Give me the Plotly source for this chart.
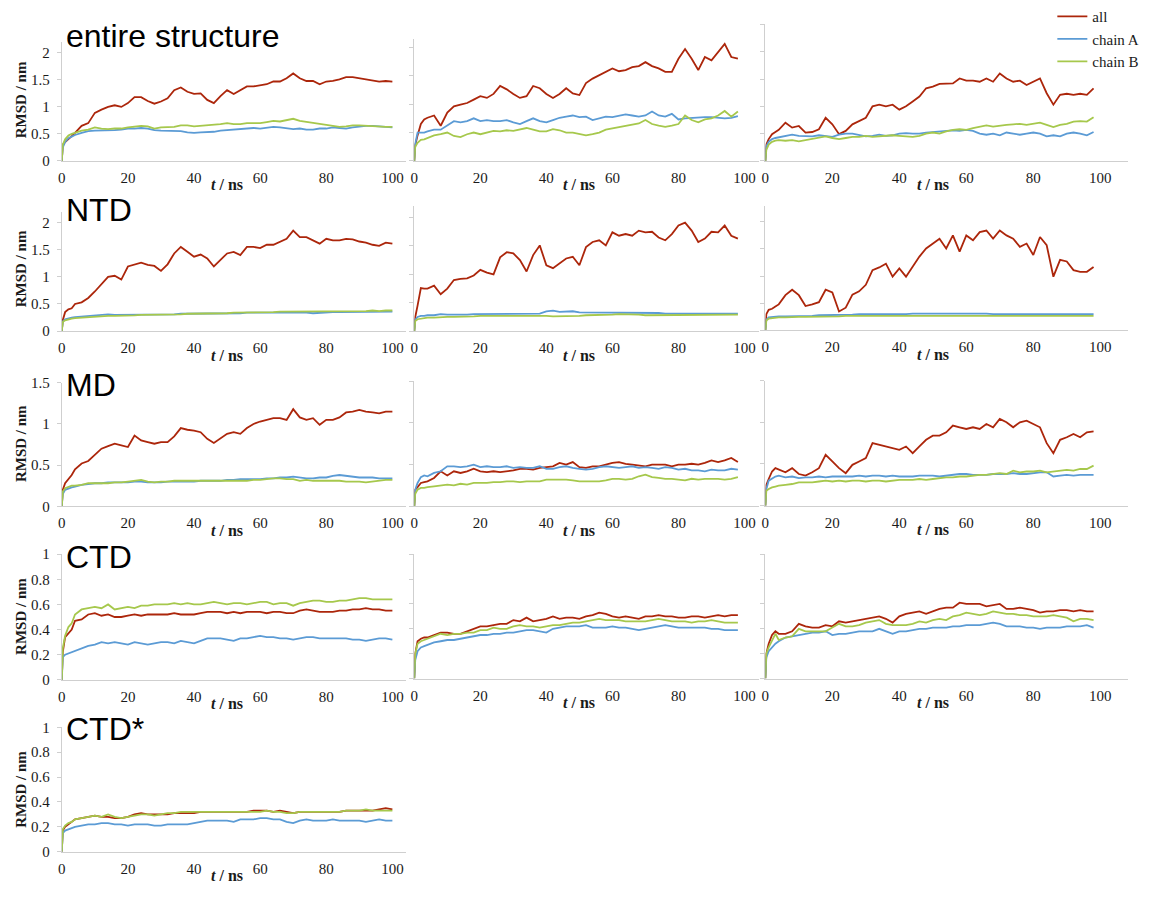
import plotly.graph_objects as go

# ---------------------------------------------------------------------------
# Time axis (ns): dense start, then every 2 ns
# ---------------------------------------------------------------------------
T = [0, 0.3, 1, 2, 3, 4] + list(range(6, 101, 2))

SERIES_NAMES = ["all", "chain A", "chain B"]
ROW_TITLES = ["entire structure", "NTD", "MD", "CTD", "CTD*"]
X_TICKS = [0, 20, 40, 60, 80, 100]

# ---------------------------------------------------------------------------
# RMSD values (nm)
# ---------------------------------------------------------------------------
# entire structure, run 1
ES1_ALL = [0, 0.3, 0.35, 0.4, 0.46, 0.52, 0.65, 0.7,
           0.89, 0.95, 1.0, 1.03, 1.0, 1.07, 1.18, 1.18, 1.11, 1.06,
           1.1, 1.16, 1.31, 1.36, 1.28, 1.24, 1.25, 1.13, 1.07, 1.2,
           1.31, 1.24, 1.31, 1.38, 1.38, 1.4, 1.42, 1.47, 1.47, 1.53,
           1.62, 1.53, 1.48, 1.48, 1.42, 1.47, 1.48, 1.51, 1.55, 1.55,
           1.53, 1.51, 1.48, 1.47, 1.48, 1.47]
ES1_A = [0, 0.25, 0.35, 0.42, 0.45, 0.48, 0.52, 0.55,
         0.56, 0.56, 0.57, 0.57, 0.58, 0.6, 0.6, 0.61, 0.6, 0.57,
         0.56, 0.56, 0.55, 0.55, 0.53, 0.52, 0.53, 0.53, 0.54, 0.56,
         0.57, 0.57, 0.58, 0.6, 0.61, 0.6, 0.62, 0.63, 0.62, 0.6,
         0.59, 0.6, 0.58, 0.58, 0.6, 0.6, 0.62, 0.61, 0.6, 0.62,
         0.64, 0.65, 0.65, 0.64, 0.63, 0.62]
ES1_B = [0, 0.3, 0.4, 0.47, 0.5, 0.52, 0.56, 0.58,
         0.62, 0.6, 0.59, 0.6, 0.6, 0.62, 0.63, 0.65, 0.64, 0.6,
         0.62, 0.63, 0.63, 0.66, 0.66, 0.64, 0.65, 0.66, 0.66, 0.68,
         0.7, 0.68, 0.68, 0.7, 0.7, 0.7, 0.72, 0.74, 0.73, 0.75,
         0.78, 0.74, 0.72, 0.7, 0.68, 0.66, 0.65, 0.63, 0.64, 0.66,
         0.66, 0.65, 0.64, 0.64, 0.63, 0.63]

# entire structure, run 2
ES2_ALL = [0, 0.28, 0.45, 0.65, 0.73, 0.76, 0.8, 0.62,
           0.85, 0.96, 0.99, 1.02, 1.08, 1.14, 1.11, 1.18, 1.32, 1.26,
           1.18, 1.11, 1.14, 1.32, 1.28, 1.18, 1.11, 1.18, 1.28, 1.19,
           1.16, 1.37, 1.45, 1.51, 1.57, 1.63, 1.58, 1.6, 1.65, 1.67,
           1.74, 1.67, 1.63, 1.57, 1.57, 1.8, 1.97, 1.8, 1.6, 1.83,
           1.77, 1.91, 2.06, 1.83, 1.8]
ES2_A = [0, 0.3, 0.5, 0.5, 0.5, 0.52, 0.55, 0.55,
         0.63, 0.7, 0.68, 0.7, 0.75, 0.7, 0.72, 0.7, 0.7, 0.72,
         0.68, 0.65, 0.7, 0.75, 0.7, 0.68, 0.72, 0.76, 0.78, 0.8,
         0.77, 0.78, 0.72, 0.75, 0.78, 0.77, 0.8, 0.82, 0.8, 0.78,
         0.8, 0.87, 0.8, 0.78, 0.83, 0.73, 0.75, 0.76, 0.77, 0.77,
         0.77, 0.76, 0.75, 0.76, 0.79]
ES2_B = [0, 0.25, 0.32, 0.37, 0.38, 0.4, 0.45, 0.47,
         0.5, 0.44, 0.42, 0.47, 0.5, 0.47, 0.5, 0.53, 0.52, 0.54,
         0.53, 0.55, 0.58, 0.55, 0.52, 0.52, 0.56, 0.54, 0.5, 0.5,
         0.48, 0.45, 0.47, 0.5, 0.55, 0.57, 0.6, 0.61, 0.63, 0.66,
         0.72, 0.65, 0.62, 0.6, 0.62, 0.65, 0.8, 0.72, 0.68, 0.73,
         0.75, 0.8, 0.88, 0.78, 0.87]

# entire structure, run 3
ES3_ALL = [0, 0.3, 0.4, 0.49, 0.53, 0.57, 0.7, 0.61,
           0.64, 0.52, 0.53, 0.58, 0.79, 0.67, 0.49, 0.55, 0.67, 0.73,
           0.79, 1.0, 1.03, 1.0, 1.03, 0.94, 1.0, 1.09, 1.18, 1.33,
           1.36, 1.41, 1.41, 1.42, 1.51, 1.47, 1.47, 1.45, 1.51, 1.45,
           1.6, 1.51, 1.45, 1.47, 1.39, 1.45, 1.51, 1.24, 1.03, 1.21,
           1.23, 1.21, 1.23, 1.21, 1.33]
ES3_A = [0, 0.27, 0.35, 0.4, 0.42, 0.43, 0.45, 0.48,
         0.46, 0.45, 0.45, 0.47, 0.45, 0.44, 0.48, 0.5, 0.5, 0.47,
         0.45, 0.46, 0.48, 0.46, 0.47, 0.5, 0.51, 0.5, 0.5, 0.52,
         0.53, 0.55, 0.56, 0.56, 0.55, 0.57, 0.55, 0.5, 0.48, 0.5,
         0.47, 0.52, 0.5, 0.48, 0.5, 0.52, 0.5, 0.45, 0.47, 0.45,
         0.5, 0.52, 0.5, 0.47, 0.53]
ES3_B = [0, 0.2, 0.3, 0.35, 0.37, 0.38, 0.37, 0.38,
         0.36, 0.38, 0.4, 0.42, 0.45, 0.42, 0.4, 0.42, 0.44, 0.44,
         0.46, 0.44, 0.45, 0.45, 0.47, 0.46, 0.45, 0.44, 0.46, 0.5,
         0.52, 0.5, 0.54, 0.57, 0.58, 0.57, 0.6, 0.62, 0.65, 0.63,
         0.65, 0.66, 0.67, 0.68, 0.66, 0.68, 0.7, 0.66, 0.62, 0.66,
         0.68, 0.72, 0.73, 0.72, 0.8]

# NTD
NTD1_ALL = [0, 0.2, 0.35, 0.4, 0.42, 0.5, 0.53, 0.61,
            0.73, 0.86, 1.0, 1.02, 0.95, 1.19, 1.23, 1.26, 1.22, 1.2,
            1.11, 1.23, 1.43, 1.55, 1.46, 1.37, 1.41, 1.34, 1.19, 1.31,
            1.43, 1.46, 1.4, 1.55, 1.55, 1.53, 1.59, 1.59, 1.64, 1.7,
            1.85, 1.73, 1.73, 1.67, 1.61, 1.7, 1.67, 1.67, 1.7, 1.69,
            1.65, 1.63, 1.59, 1.57, 1.63, 1.61]
NTD1_A = [0, 0.18, 0.22, 0.24, 0.25, 0.26, 0.27, 0.28,
          0.3, 0.3, 0.31, 0.3, 0.3, 0.3, 0.31, 0.3, 0.3, 0.31,
          0.31, 0.31, 0.31, 0.32, 0.32, 0.32, 0.32, 0.33, 0.32, 0.33,
          0.33, 0.33, 0.33, 0.34, 0.34, 0.34, 0.35, 0.35, 0.35, 0.35,
          0.35, 0.34, 0.34, 0.33, 0.34, 0.34, 0.35, 0.35, 0.35, 0.35,
          0.35, 0.35, 0.36, 0.36, 0.36, 0.36]
NTD1_B = [0, 0.17, 0.2, 0.22, 0.23, 0.24, 0.25, 0.26,
          0.27, 0.27, 0.28, 0.28, 0.28, 0.29, 0.29, 0.3, 0.3, 0.3,
          0.31, 0.31, 0.31, 0.31, 0.32, 0.32, 0.32, 0.32, 0.33, 0.33,
          0.33, 0.34, 0.34, 0.34, 0.35, 0.35, 0.35, 0.35, 0.36, 0.36,
          0.36, 0.36, 0.36, 0.37, 0.37, 0.37, 0.37, 0.36, 0.37, 0.37,
          0.37, 0.37, 0.38, 0.37, 0.38, 0.38]

NTD2_ALL = [0, 0.25, 0.45, 0.76, 0.75, 0.75, 0.8, 0.65,
            0.75, 0.9, 0.92, 0.93, 0.98, 1.08, 1.03, 1.0, 1.3, 1.39,
            1.37, 1.25, 1.05, 1.34, 1.51, 1.16, 1.11, 1.19, 1.28, 1.31,
            1.16, 1.48, 1.57, 1.6, 1.51, 1.74, 1.68, 1.71, 1.68, 1.77,
            1.74, 1.75, 1.65, 1.6, 1.71, 1.86, 1.91, 1.77, 1.57, 1.63,
            1.75, 1.74, 1.86, 1.68, 1.63]
NTD2_A = [0, 0.2, 0.25, 0.27, 0.27, 0.28, 0.28, 0.3,
          0.29, 0.29, 0.28, 0.29, 0.3, 0.3, 0.3, 0.31, 0.31, 0.3,
          0.3, 0.3, 0.3, 0.3, 0.31, 0.35, 0.36, 0.34, 0.34, 0.35,
          0.33, 0.33, 0.33, 0.33, 0.33, 0.32, 0.32, 0.33, 0.33, 0.33,
          0.33, 0.32, 0.32, 0.31, 0.31, 0.31, 0.31, 0.3, 0.3, 0.3,
          0.3, 0.3, 0.3, 0.31, 0.31]
NTD2_B = [0, 0.18, 0.21, 0.22, 0.23, 0.24, 0.24, 0.25,
          0.25, 0.25, 0.25, 0.26, 0.26, 0.27, 0.27, 0.28, 0.28, 0.28,
          0.28, 0.28, 0.28, 0.27, 0.27, 0.27, 0.26, 0.26, 0.27, 0.27,
          0.27, 0.28, 0.28, 0.29, 0.29, 0.29, 0.3, 0.3, 0.29, 0.29,
          0.28, 0.28, 0.28, 0.28, 0.28, 0.28, 0.28, 0.28, 0.28, 0.28,
          0.28, 0.28, 0.29, 0.29, 0.29]

NTD3_ALL = [0, 0.3, 0.38, 0.4, 0.44, 0.48, 0.65, 0.75,
            0.65, 0.45, 0.48, 0.52, 0.75, 0.7, 0.35, 0.42, 0.66, 0.72,
            0.84, 1.11, 1.16, 1.23, 0.99, 1.14, 0.99, 1.17, 1.36, 1.51,
            1.6, 1.69, 1.51, 1.75, 1.45, 1.75, 1.66, 1.81, 1.84, 1.69,
            1.84, 1.75, 1.69, 1.54, 1.6, 1.39, 1.72, 1.57, 0.99, 1.3,
            1.27, 1.11, 1.08, 1.08, 1.17]
NTD3_A = [0, 0.2, 0.24, 0.25, 0.25, 0.26, 0.26, 0.26,
          0.26, 0.27, 0.27, 0.28, 0.28, 0.29, 0.29, 0.29, 0.29, 0.3,
          0.3, 0.29, 0.3, 0.3, 0.3, 0.3, 0.3, 0.31, 0.31, 0.31,
          0.31, 0.31, 0.31, 0.31, 0.31, 0.31, 0.32, 0.31, 0.31, 0.3,
          0.3, 0.3, 0.3, 0.31, 0.31, 0.31, 0.31, 0.3, 0.3, 0.3,
          0.3, 0.3, 0.3, 0.3, 0.3]
NTD3_B = [0, 0.18, 0.22, 0.23, 0.23, 0.24, 0.24, 0.25,
          0.25, 0.25, 0.25, 0.26, 0.26, 0.26, 0.26, 0.27, 0.27, 0.28,
          0.27, 0.27, 0.27, 0.27, 0.28, 0.28, 0.28, 0.28, 0.28, 0.28,
          0.28, 0.28, 0.28, 0.28, 0.28, 0.28, 0.28, 0.28, 0.27, 0.27,
          0.28, 0.28, 0.27, 0.27, 0.27, 0.27, 0.27, 0.27, 0.27, 0.27,
          0.27, 0.27, 0.27, 0.27, 0.27]

# MD
MD1_ALL = [0, 0.2, 0.28, 0.33, 0.38, 0.45, 0.52, 0.55,
           0.62, 0.7, 0.73, 0.76, 0.74, 0.72, 0.86, 0.8, 0.78, 0.76,
           0.78, 0.78, 0.85, 0.95, 0.93, 0.92, 0.9, 0.82, 0.77, 0.83,
           0.88, 0.9, 0.88, 0.95, 1.0, 1.03, 1.05, 1.07, 1.07, 1.05,
           1.18, 1.08, 1.05, 1.07, 0.99, 1.05, 1.05, 1.08, 1.14, 1.15,
           1.17, 1.15, 1.14, 1.13, 1.15, 1.15]
MD1_A = [0, 0.15, 0.2, 0.22, 0.23, 0.24, 0.26, 0.27,
         0.28, 0.28, 0.29, 0.29, 0.29, 0.29, 0.3, 0.3, 0.29, 0.29,
         0.29, 0.3, 0.3, 0.3, 0.3, 0.3, 0.31, 0.31, 0.31, 0.31,
         0.32, 0.32, 0.33, 0.33, 0.33, 0.33, 0.34, 0.34, 0.35, 0.35,
         0.36, 0.35, 0.34, 0.34, 0.35, 0.35, 0.37, 0.38, 0.37, 0.36,
         0.35, 0.35, 0.35, 0.34, 0.34, 0.34]
MD1_B = [0, 0.18, 0.22, 0.24, 0.25, 0.25, 0.26, 0.28,
         0.28, 0.28, 0.28, 0.29, 0.29, 0.3, 0.31, 0.32, 0.3, 0.29,
         0.3, 0.3, 0.31, 0.31, 0.31, 0.31, 0.31, 0.31, 0.31, 0.31,
         0.31, 0.31, 0.31, 0.31, 0.32, 0.32, 0.33, 0.34, 0.34, 0.33,
         0.33, 0.31, 0.32, 0.31, 0.31, 0.31, 0.31, 0.31, 0.3, 0.3,
         0.3, 0.29, 0.3, 0.31, 0.32, 0.32]

MD2_ALL = [0, 0.2, 0.23, 0.28, 0.29, 0.3, 0.34, 0.42,
           0.37, 0.42, 0.4, 0.42, 0.45, 0.42, 0.41, 0.42, 0.41, 0.42,
           0.43, 0.45, 0.45, 0.44, 0.46, 0.47, 0.48, 0.52, 0.5, 0.53,
           0.47, 0.46, 0.48, 0.48, 0.5, 0.52, 0.53, 0.51, 0.5, 0.49,
           0.48, 0.5, 0.5, 0.5, 0.48, 0.5, 0.5, 0.51, 0.5, 0.52,
           0.55, 0.53, 0.55, 0.58, 0.53]
MD2_A = [0, 0.2, 0.28, 0.35, 0.37, 0.36, 0.4, 0.42,
         0.48, 0.48, 0.47, 0.48, 0.5, 0.47, 0.48, 0.47, 0.47, 0.48,
         0.46, 0.47, 0.46, 0.46, 0.48, 0.45, 0.45, 0.47, 0.48, 0.46,
         0.45, 0.44, 0.45, 0.47, 0.48, 0.47, 0.46, 0.47, 0.48, 0.46,
         0.47, 0.46, 0.45, 0.47, 0.46, 0.44, 0.45, 0.43, 0.43, 0.42,
         0.44, 0.43, 0.43, 0.45, 0.44]
MD2_B = [0, 0.15, 0.2, 0.22, 0.22, 0.23, 0.24, 0.25,
         0.26, 0.25, 0.27, 0.26, 0.28, 0.28, 0.28, 0.29, 0.29, 0.3,
         0.3, 0.29, 0.3, 0.3, 0.3, 0.32, 0.32, 0.32, 0.32, 0.31,
         0.3, 0.3, 0.3, 0.3, 0.31, 0.33, 0.33, 0.32, 0.33, 0.36,
         0.38, 0.35, 0.34, 0.33, 0.33, 0.32, 0.31, 0.33, 0.32, 0.33,
         0.33, 0.33, 0.32, 0.33, 0.35]

MD3_ALL = [0, 0.25, 0.32, 0.41, 0.45, 0.43, 0.4, 0.45,
           0.38, 0.36, 0.4, 0.45, 0.61, 0.53, 0.45, 0.39, 0.49, 0.53,
           0.57, 0.75, 0.73, 0.71, 0.69, 0.67, 0.71, 0.63, 0.71, 0.79,
           0.84, 0.84, 0.88, 0.96, 0.94, 0.92, 0.94, 0.92, 0.98, 0.94,
           1.04, 1.0, 0.94, 1.0, 1.02, 0.98, 0.94, 0.75, 0.63, 0.79,
           0.82, 0.86, 0.82, 0.88, 0.89]
MD3_A = [0, 0.2, 0.3, 0.33, 0.35, 0.36, 0.34, 0.35,
         0.33, 0.34, 0.34, 0.35, 0.34, 0.35, 0.35, 0.35, 0.35, 0.36,
         0.35, 0.36, 0.36, 0.35, 0.36, 0.35, 0.35, 0.35, 0.36, 0.36,
         0.36, 0.35, 0.36, 0.37, 0.38, 0.38, 0.37, 0.37, 0.37, 0.38,
         0.38, 0.38, 0.39, 0.38, 0.38, 0.39, 0.4, 0.4, 0.35, 0.36,
         0.37, 0.36, 0.37, 0.37, 0.37]
MD3_B = [0, 0.18, 0.2, 0.22, 0.23, 0.24, 0.25, 0.26,
         0.28, 0.28, 0.28, 0.29, 0.3, 0.29, 0.3, 0.29, 0.3, 0.3,
         0.29, 0.3, 0.3, 0.29, 0.3, 0.31, 0.31, 0.31, 0.32, 0.31,
         0.32, 0.33, 0.34, 0.34, 0.35, 0.35, 0.36, 0.37, 0.37, 0.38,
         0.39, 0.38, 0.42, 0.4, 0.41, 0.41, 0.42, 0.4, 0.41, 0.42,
         0.43, 0.42, 0.44, 0.44, 0.48]

# CTD
CTD1_ALL = [0, 0.22, 0.34, 0.37, 0.4, 0.47, 0.48, 0.52,
            0.53, 0.51, 0.52, 0.5, 0.5, 0.51, 0.52, 0.51, 0.52, 0.52,
            0.52, 0.52, 0.53, 0.52, 0.52, 0.52, 0.53, 0.54, 0.54, 0.54,
            0.53, 0.54, 0.53, 0.54, 0.54, 0.54, 0.53, 0.54, 0.54, 0.53,
            0.53, 0.55, 0.56, 0.55, 0.54, 0.54, 0.54, 0.55, 0.55, 0.56,
            0.56, 0.57, 0.56, 0.56, 0.55, 0.55]
CTD1_A = [0, 0.18, 0.2, 0.21, 0.22, 0.23, 0.25, 0.27,
          0.28, 0.3, 0.29, 0.3, 0.29, 0.28, 0.3, 0.29, 0.28, 0.29,
          0.3, 0.3, 0.29, 0.31, 0.3, 0.29, 0.31, 0.33, 0.33, 0.33,
          0.32, 0.31, 0.33, 0.33, 0.34, 0.35, 0.34, 0.34, 0.33, 0.33,
          0.32, 0.33, 0.34, 0.34, 0.33, 0.33, 0.33, 0.33, 0.33, 0.32,
          0.32, 0.31, 0.32, 0.33, 0.33, 0.32]
CTD1_B = [0, 0.25, 0.35, 0.42, 0.45, 0.52, 0.56, 0.57,
          0.58, 0.57, 0.6, 0.56, 0.57, 0.58, 0.57, 0.59, 0.59, 0.6,
          0.6, 0.6, 0.61, 0.6, 0.61, 0.6, 0.6, 0.61, 0.62, 0.61,
          0.6, 0.61, 0.61, 0.6, 0.61, 0.62, 0.62, 0.6, 0.61, 0.61,
          0.59, 0.61, 0.62, 0.63, 0.63, 0.62, 0.62, 0.63, 0.63, 0.64,
          0.65, 0.65, 0.64, 0.64, 0.64, 0.64]

CTD2_ALL = [0, 0.2, 0.3, 0.32, 0.33, 0.33, 0.35, 0.37,
            0.37, 0.36, 0.36, 0.38, 0.4, 0.42, 0.42, 0.43, 0.44, 0.44,
            0.47, 0.46, 0.49, 0.46, 0.47, 0.48, 0.5, 0.48, 0.49, 0.49,
            0.48, 0.5, 0.51, 0.53, 0.52, 0.5, 0.49, 0.5, 0.49, 0.48,
            0.5, 0.5, 0.51, 0.5, 0.5, 0.49, 0.49, 0.5, 0.5, 0.49,
            0.5, 0.51, 0.5, 0.51, 0.51]
CTD2_A = [0, 0.15, 0.22, 0.25, 0.26, 0.27, 0.29, 0.3,
          0.31, 0.31, 0.32, 0.33, 0.34, 0.35, 0.35, 0.36, 0.36, 0.37,
          0.37, 0.38, 0.39, 0.39, 0.38, 0.37, 0.4, 0.41, 0.42, 0.42,
          0.42, 0.43, 0.41, 0.41, 0.41, 0.42, 0.41, 0.41, 0.4, 0.39,
          0.4, 0.41, 0.42, 0.43, 0.42, 0.41, 0.41, 0.41, 0.41, 0.41,
          0.4, 0.4, 0.39, 0.39, 0.39]
CTD2_B = [0, 0.2, 0.28, 0.3, 0.31, 0.32, 0.34, 0.36,
          0.35, 0.36, 0.36, 0.37, 0.37, 0.39, 0.39, 0.41, 0.4, 0.4,
          0.42, 0.43, 0.42, 0.42, 0.41, 0.42, 0.43, 0.43, 0.44, 0.45,
          0.45, 0.46, 0.47, 0.48, 0.47, 0.47, 0.47, 0.46, 0.46, 0.46,
          0.46, 0.47, 0.48, 0.47, 0.46, 0.46, 0.46, 0.45, 0.46, 0.46,
          0.47, 0.46, 0.45, 0.45, 0.45]

CTD3_ALL = [0, 0.2, 0.28, 0.35, 0.38, 0.36, 0.36, 0.38,
            0.44, 0.42, 0.41, 0.41, 0.43, 0.42, 0.46, 0.45, 0.46, 0.47,
            0.48, 0.49, 0.5, 0.48, 0.45, 0.5, 0.52, 0.53, 0.54, 0.52,
            0.54, 0.56, 0.57, 0.57, 0.61, 0.6, 0.6, 0.6, 0.58, 0.59,
            0.6, 0.56, 0.56, 0.57, 0.56, 0.55, 0.53, 0.54, 0.54, 0.55,
            0.55, 0.54, 0.55, 0.54, 0.54]
CTD3_A = [0, 0.17, 0.22, 0.25, 0.28, 0.3, 0.33, 0.34,
          0.35, 0.36, 0.37, 0.37, 0.38, 0.35, 0.36, 0.36, 0.37, 0.38,
          0.38, 0.38, 0.4, 0.38, 0.36, 0.38, 0.38, 0.39, 0.4, 0.4,
          0.41, 0.41, 0.41, 0.42, 0.42, 0.43, 0.43, 0.43, 0.44, 0.45,
          0.44, 0.42, 0.42, 0.42, 0.41, 0.41, 0.4, 0.41, 0.41, 0.41,
          0.42, 0.42, 0.42, 0.43, 0.41]
CTD3_B = [0, 0.2, 0.25, 0.3, 0.36, 0.31, 0.33, 0.34,
          0.4, 0.38, 0.38, 0.38, 0.38, 0.41, 0.44, 0.42, 0.42, 0.43,
          0.45, 0.46, 0.47, 0.44, 0.43, 0.43, 0.43, 0.44, 0.46, 0.45,
          0.47, 0.48, 0.47, 0.5, 0.51, 0.53, 0.52, 0.51, 0.52, 0.54,
          0.53, 0.52, 0.52, 0.51, 0.51, 0.5, 0.5, 0.5, 0.51, 0.5,
          0.49, 0.46, 0.48, 0.48, 0.47]

# CTD*
CTDS_ALL = [0, 0.17, 0.2, 0.22, 0.24, 0.26, 0.27, 0.28,
            0.29, 0.28, 0.28, 0.27, 0.27, 0.28, 0.3, 0.31, 0.3, 0.3,
            0.3, 0.3, 0.31, 0.31, 0.31, 0.31, 0.32, 0.32, 0.32, 0.32,
            0.32, 0.32, 0.32, 0.32, 0.33, 0.33, 0.33, 0.32, 0.33, 0.32,
            0.31, 0.32, 0.32, 0.32, 0.32, 0.32, 0.32, 0.32, 0.33, 0.33,
            0.33, 0.33, 0.33, 0.34, 0.35, 0.34]
CTDS_A = [0, 0.15, 0.17, 0.18, 0.19, 0.2, 0.21, 0.22,
          0.22, 0.23, 0.23, 0.22, 0.22, 0.21, 0.22, 0.22, 0.22, 0.21,
          0.21, 0.22, 0.22, 0.22, 0.22, 0.23, 0.24, 0.25, 0.25, 0.25,
          0.25, 0.24, 0.26, 0.26, 0.26, 0.27, 0.27, 0.26, 0.26, 0.24,
          0.23, 0.25, 0.26, 0.25, 0.25, 0.25, 0.26, 0.25, 0.25, 0.25,
          0.25, 0.24, 0.25, 0.26, 0.25, 0.25]
CTDS_B = [0, 0.18, 0.21, 0.23, 0.24, 0.26, 0.27, 0.28,
          0.29, 0.28, 0.3, 0.28, 0.27, 0.28, 0.29, 0.3, 0.3, 0.29,
          0.3, 0.31, 0.31, 0.32, 0.32, 0.32, 0.32, 0.32, 0.32, 0.32,
          0.32, 0.32, 0.32, 0.32, 0.32, 0.32, 0.33, 0.32, 0.32, 0.31,
          0.31, 0.32, 0.32, 0.32, 0.32, 0.32, 0.32, 0.32, 0.33, 0.33,
          0.33, 0.34, 0.33, 0.33, 0.33, 0.33]

# ---------------------------------------------------------------------------
# Page geometry (pixels) and styling
# ---------------------------------------------------------------------------
W, H = 1149, 901
COLORS = ["#ac260b", "#5b9bd5", "#a6c84c"]
AXIS_GRAY = "#cfcfcf"
TEXT = "#1a1a1a"
SERIF = "Liberation Serif"
SANS = "Liberation Sans"

# column: (left px, right px, x max)
COLS = [(58, 403, 104.0), (411.7, 758, 104.5), (764, 1128, 108.3)]

# each panel: (row, col, series, bottom px, top px, y max, y dtick)
PANELS = [
    (0, 0, (ES1_ALL, ES1_A, ES1_B), 155.7, 34.7, 2.2, 0.5),
    (0, 1, (ES2_ALL, ES2_A, ES2_B), 155.7, 31.4, 2.15, 0.5),
    (0, 2, (ES3_ALL, ES3_A, ES3_B), 155.7, 16.7, 2.5, 0.5),
    (1, 0, (NTD1_ALL, NTD1_A, NTD1_B), 329.0, 207.3, 2.2, 0.5),
    (1, 1, (NTD2_ALL, NTD2_A, NTD2_B), 329.0, 201.8, 2.2, 0.5),
    (1, 2, (NTD3_ALL, NTD3_A, NTD3_B), 328.3, 201.1, 2.3, 0.5),
    (2, 0, (MD1_ALL, MD1_A, MD1_B), 507.3, 381.6, 1.5, 0.5),
    (2, 1, (MD2_ALL, MD2_A, MD2_B), 507.3, 380.0, 1.5, 0.5),
    (2, 2, (MD3_ALL, MD3_A, MD3_B), 506.7, 379.3, 1.5, 0.5),
    (3, 0, (CTD1_ALL, CTD1_A, CTD1_B), 684.0, 556.0, 1.0, 0.2),
    (3, 1, (CTD2_ALL, CTD2_A, CTD2_B), 682.7, 556.0, 1.0, 0.2),
    (3, 2, (CTD3_ALL, CTD3_A, CTD3_B), 682.7, 556.0, 1.0, 0.2),
    (4, 0, (CTDS_ALL, CTDS_A, CTDS_B), 859.0, 732.3, 1.0, 0.2),
]

# vertical centres (px) of the row titles and of the y-axis labels
TITLE_Y = [29, 206, 384, 559, 734]
YLABEL_Y = [93, 265, 443, 619, 795]


def px_x(p):
    return p / W


def px_y(p):
    return 1 - p / H


fig = go.Figure()
layout = dict(
    width=W, height=H, autosize=False,
    margin=dict(l=0, r=0, t=0, b=0, pad=0),
    paper_bgcolor="white", plot_bgcolor="white",
    font=dict(family=SERIF, size=15, color=TEXT),
    showlegend=True,
    legend=dict(
        x=px_x(1052), y=px_y(-8), xanchor="left", yanchor="top",
        bgcolor="rgba(0,0,0,0)", borderwidth=0,
        font=dict(family=SERIF, size=15, color=TEXT),
        traceorder="grouped", tracegroupgap=0, itemwidth=30,
    ),
)
annotations = []

for k, (row, col, series, ybot, ytop, ymax, dtick) in enumerate(PANELS, start=1):
    xname = "x" if k == 1 else f"x{k}"
    yname = "y" if k == 1 else f"y{k}"
    xkey = "xaxis" if k == 1 else f"xaxis{k}"
    ykey = "yaxis" if k == 1 else f"yaxis{k}"
    left, right, xmax = COLS[col]

    for name, color, values in zip(SERIES_NAMES, COLORS, series):
        fig.add_trace(go.Scatter(
            x=T[:len(values)], y=values, mode="lines",
            name=name, legendgroup=name, showlegend=(k == 1),
            line=dict(color=color, width=1.8),
            xaxis=xname, yaxis=yname, hoverinfo="skip",
        ))

    layout[xkey] = dict(
        domain=[px_x(left), px_x(right)], range=[0, xmax],
        anchor=yname, showgrid=False, zeroline=False,
        showline=True, linecolor=AXIS_GRAY, linewidth=1,
        ticks="", tickvals=X_TICKS, ticklabelstandoff=3,
        tickfont=dict(family=SERIF, size=15, color=TEXT),
        fixedrange=True,
    )
    layout[ykey] = dict(
        domain=[px_y(ybot), px_y(ytop)], range=[0, ymax],
        anchor=xname, showgrid=False, zeroline=False,
        showline=True, linecolor=AXIS_GRAY, linewidth=1,
        ticks="outside", ticklen=4, tickcolor=AXIS_GRAY,
        dtick=dtick, tick0=0, showticklabels=(col == 0),
        ticklabelstandoff=4,
        tickfont=dict(family=SERIF, size=15, color=TEXT),
        fixedrange=True,
    )

    # x-axis label under each panel, centred on t = 50 ns
    annotations.append(dict(
        text="<b><i>t</i> / ns</b>", x=50, xref=xname,
        y=px_y(ybot + 24.5), yref="paper", xanchor="center", yanchor="middle",
        showarrow=False, font=dict(family=SERIF, size=16, color=TEXT),
    ))

for row in range(5):
    annotations.append(dict(
        text=ROW_TITLES[row], x=px_x(60), y=px_y(TITLE_Y[row]),
        xref="paper", yref="paper", xanchor="left", yanchor="middle",
        showarrow=False, font=dict(family=SANS, size=32, color="black"),
    ))
    annotations.append(dict(
        text="<b>RMSD / nm</b>", x=px_x(17), y=px_y(YLABEL_Y[row]),
        xref="paper", yref="paper", xanchor="center", yanchor="middle",
        textangle=-90, showarrow=False,
        font=dict(family=SERIF, size=15, color=TEXT),
    ))

layout["annotations"] = annotations
fig.update_layout(**layout)
fig.write_html("out.html")
